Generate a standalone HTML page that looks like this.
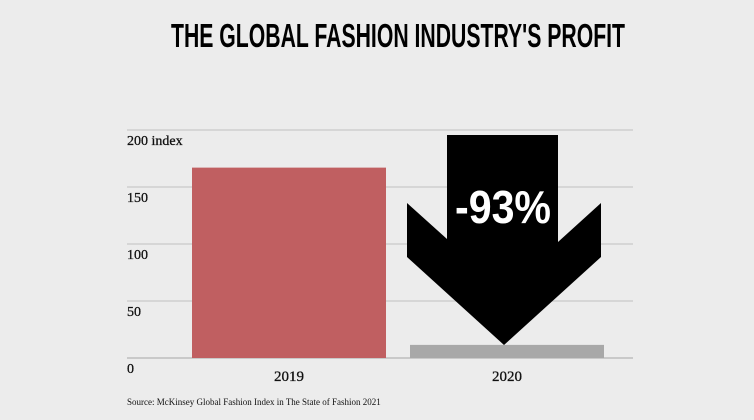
<!DOCTYPE html>
<html><head><meta charset="utf-8"><style>
html,body{margin:0;padding:0;background:#ececec;}
svg{display:block;}
</style></head><body>
<svg width="754" height="420" viewBox="0 0 754 420" xmlns="http://www.w3.org/2000/svg">
<rect x="0" y="0" width="754" height="420" fill="#ececec"/>
<text x="171" y="47" textLength="454" lengthAdjust="spacingAndGlyphs" font-family="Liberation Sans, sans-serif" font-weight="bold" font-size="33" fill="#000">THE GLOBAL FASHION INDUSTRY'S PROFIT</text>
<g id="grid"></g>
<g id="bars"></g>
<g id="arrow">
<polygon points="447,135 558,135 558,242 601,203 601,257 504,345 407,257 407,203 447,239" fill="#000"/>
<text x="503" y="223" text-anchor="middle" textLength="96" lengthAdjust="spacingAndGlyphs" font-family="Liberation Sans, sans-serif" font-weight="bold" font-size="46" fill="#fff">-93%</text>
</g>
<text x="127" y="405" font-family="Liberation Serif, serif" font-size="9" fill="#111">Source: McKinsey Global Fashion Index in The State of Fashion 2021</text>
<script>
const categories = ["2019", "2020"];
const values = [167, 11.5];
const colors = ["#c05f61", "#a8a8a8"];
const ticks = [0, 50, 100, 150, 200];
const tickLabels = ["0", "50", "100", "150", "200 index"];
const NS = "http://www.w3.org/2000/svg";
const y0 = 358, yTop = 130, vMax = 200;
function yScale(v){ return y0 - (v / vMax) * (y0 - yTop); }
const bandStart = 180, bandW = 218, barW = 194;
function xScale(i){ return bandStart + i * bandW + (bandW - barW) / 2; }
const grid = document.getElementById("grid");
ticks.forEach((t, i) => {
  const l = document.createElementNS(NS, "line");
  l.setAttribute("x1", 127); l.setAttribute("x2", 633);
  l.setAttribute("y1", yScale(t)); l.setAttribute("y2", yScale(t));
  l.setAttribute("stroke", t === 0 ? "#bdbdbd" : "#cfcfcf");
  l.setAttribute("stroke-width", 1.5);
  
  
  grid.appendChild(l);
  const tx = document.createElementNS(NS, "text");
  tx.setAttribute("x", 127);
  tx.setAttribute("y", yScale(t) + 15);
  tx.setAttribute("font-family", "Liberation Serif, serif");
  tx.setAttribute("font-size", "14");
  tx.setAttribute("stroke", "#111");
  tx.setAttribute("stroke-width", "0.3");
  tx.setAttribute("fill", "#111");
  tx.textContent = tickLabels[i];
  
  
  grid.appendChild(tx);
});
const bars = document.getElementById("bars");
categories.forEach((c, i) => {
  const r = document.createElementNS(NS, "rect");
  r.setAttribute("x", xScale(i));
  r.setAttribute("y", yScale(values[i]));
  r.setAttribute("width", barW);
  r.setAttribute("height", y0 - yScale(values[i]));
  r.setAttribute("fill", colors[i]);
  
  
  bars.appendChild(r);
  const tx = document.createElementNS(NS, "text");
  tx.setAttribute("x", xScale(i) + barW / 2);
  tx.setAttribute("y", 381);
  tx.setAttribute("text-anchor", "middle");
  tx.setAttribute("font-family", "Liberation Serif, serif");
  tx.setAttribute("font-size", "15");
  tx.setAttribute("stroke", "#111");
  tx.setAttribute("stroke-width", "0.3");
  tx.setAttribute("fill", "#111");
  tx.textContent = c;
  
  
  bars.appendChild(tx);
});
</script>
</svg>
</body></html>
